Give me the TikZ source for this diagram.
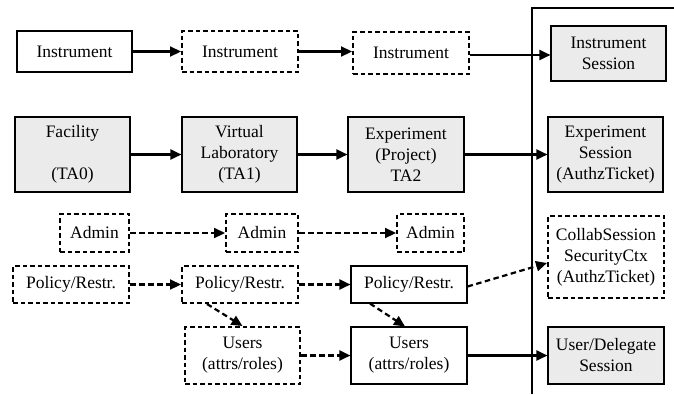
\documentclass[tikz,border=0pt]{standalone}
\usepackage{fontspec}
\setmainfont{Liberation Serif}
\usetikzlibrary{arrows.meta,calc}
\definecolor{boxgray}{HTML}{EBEBEB}
\tikzset{
  box/.style={draw, line width=1.1pt, align=center, inner sep=0pt,
    font=\fontsize{17.5}{21}\selectfont},
  dbox/.style={box, line width=2pt, dash pattern=on 4.5pt off 3pt},
  gbox/.style={box, fill=boxgray},
  arr/.style={line width=2.2pt, -{Triangle[length=11pt,width=10pt]}},
  darr/.style={arr, dash pattern=on 5.5pt off 3.5pt},
}
\begin{document}
\begin{tikzpicture}[x=1pt,y=-1pt]
\useasboundingbox (0,0) rectangle (674,394);
% frame
\draw[line width=1.1pt] (532,394) -- (532,8) -- (674,8);
% row 1
\node[box,  minimum width=115pt, minimum height=41pt] (i1) at (74.5,51.5) {Instrument};
\node[dbox, minimum width=116pt, minimum height=41pt] (i2) at (240,51.5) {Instrument};
\node[dbox, minimum width=116pt, minimum height=42pt] (i3) at (411,53) {Instrument};
\node[gbox, minimum width=115pt, minimum height=55pt] (is) at (608.5,53.5) {Instrument\\Session};
% row 2
\node[gbox, minimum width=115pt, minimum height=75pt] (fac) at (72.5,154.5) {Facility\\[21pt](TA0)};
\node[gbox, minimum width=115pt, minimum height=75pt] (vl) at (239.5,154.5) {Virtual\\Laboratory\\(TA1)};
\node[gbox, minimum width=116pt, minimum height=75pt] (exp) at (406,154.5) {Experiment\\(Project)\\TA2};
\node[gbox, minimum width=115pt, minimum height=75pt] (es) at (605.5,154.5) {Experiment\\Session\\(AuthzTicket)};
% admin row
\node[dbox, minimum width=69pt, minimum height=38pt] (a1) at (94.5,233) {Admin};
\node[dbox, minimum width=72pt, minimum height=38pt] (a2) at (262,233) {Admin};
\node[dbox, minimum width=67pt, minimum height=38pt] (a3) at (430.5,233) {Admin};
% policy row
\node[dbox, minimum width=116pt, minimum height=37pt] (p1) at (71,284.5) {Policy/Restr.};
\node[dbox, minimum width=116pt, minimum height=37pt] (p2) at (240,284.5) {Policy/Restr.};
\node[box,  minimum width=116pt, minimum height=37pt] (p3) at (409,284.5) {Policy/Restr.};
\node[dbox, minimum width=116pt, minimum height=82pt] (cs) at (606,257) {CollabSession\\SecurityCtx\\(AuthzTicket)};
% users row
\node[dbox, minimum width=115pt, minimum height=57pt] (u1) at (242.5,355.5) {Users\\(attrs/roles)};
\node[box,  minimum width=116pt, minimum height=57pt] (u2) at (409,355.5) {Users\\(attrs/roles)};
\node[gbox, minimum width=116pt, minimum height=57pt] (ud) at (606,355.5) {User/Delegate\\Session};
% helper coordinates
\coordinate (i3e) at ($(i3.east)+(0,2)$);
\coordinate (p2s) at ($(p2.south)+(-33,0)$);
\coordinate (p3s) at ($(p3.south)+(-39,0)$);
\coordinate (u2n) at ($(u2.north)+(-4,0)$);
\coordinate (p3e) at ($(p3.east)+(0,2)$);
\coordinate (csw) at ($(cs.west)+(0,6)$);
% connectors
\draw[arr] (i1.east) -- (i2.west);
\draw[arr] (i2.east) -- (i2.east -| i3.west);
\draw[arr] (i3e) -- (i3e -| is.west);
\draw[arr] (fac.east) -- (vl.west);
\draw[arr] (vl.east) -- (exp.west);
\draw[arr] (exp.east) -- (es.west);
\draw[darr] (a1.east) -- (a2.west);
\draw[darr] (a2.east) -- (a3.west);
\draw[darr] (p1.east) -- (p2.west);
\draw[darr] (p2.east) -- (p3.west);
\draw[darr] (p2s) -- (u1.north);
\draw[darr] (p3s) -- (u2n);
\draw[darr] (p3e) -- (csw);
\draw[darr] (u1.east) -- (u2.west);
\draw[arr] (u2.east) -- (ud.west);
\end{tikzpicture}
\end{document}
